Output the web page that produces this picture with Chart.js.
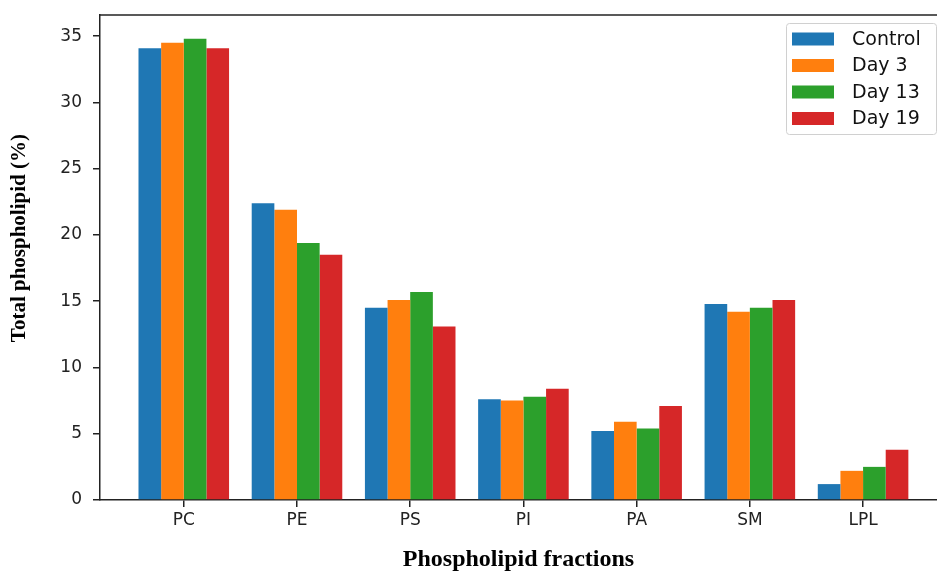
<!DOCTYPE html>
<html>
<head>
<meta charset="utf-8">
<script src="https://cdn.jsdelivr.net/npm/chart.js@4"></script>
<style>
  html, body { margin: 0; padding: 0; background: #fff; overflow: hidden; }
  #wrap { width: 937px; height: 572px; }
</style>
</head>
<body>
<div id="wrap"><canvas id="grafico" width="937" height="572"></canvas></div>
<script>
// categories and series
const fracciones = ['PC', 'PE', 'PS', 'PI', 'PA', 'SM', 'LPL'];
const control = [34.1, 22.4, 14.5, 7.6, 5.2, 14.8, 1.2];
const dia3 = [34.5, 21.9, 15.1, 7.5, 5.9, 14.2, 2.2];
const dia13 = [34.8, 19.4, 15.7, 7.8, 5.4, 14.5, 2.5];
const dia19 = [34.1, 18.5, 13.1, 8.4, 7.1, 15.1, 3.8];
const series = ['Control', 'Day 3', 'Day 13', 'Day 19'];
const yTicks = [0, 5, 10, 15, 20, 25, 30, 35];
const tituloY = 'Total phospholipid (%)';
const tituloX = 'Phospholipid fractions';

const colores = ['#1f77b4', '#ff7f0e', '#2ca02c', '#d62728'];
const tinta = '#222';

const aPuntos = (valores) => valores.map((v, i) => ({ x: i, y: v }));

// marco superior, titulo del eje Y y leyenda dentro del area del grafico
const marcoYLeyenda = {
    id: 'marcoYLeyenda',
    afterDraw(chart) {
        const ctx = chart.ctx;
        const area = chart.chartArea;
        ctx.save();
        ctx.strokeStyle = tinta;
        ctx.lineWidth = 1.5;
        ctx.beginPath();
        ctx.moveTo(area.left, area.top);
        ctx.lineTo(area.right, area.top);
        ctx.stroke();

        // titulo Y (un poco por encima del centro, como en la figura)
        ctx.save();
        ctx.translate(20, area.top + (area.bottom - area.top) * 0.46);
        ctx.rotate(-Math.PI / 2);
        ctx.font = 'bold 21px "Liberation Serif"';
        ctx.fillStyle = '#000';
        ctx.textAlign = 'center';
        ctx.textBaseline = 'middle';
        ctx.fillText(tituloY, 0, 0);
        ctx.restore();

        const bw = 150, bh = 111;
        const bx = area.right - bw - 1;
        const by = area.top + 8;
        ctx.fillStyle = 'rgba(255,255,255,0.85)';
        ctx.strokeStyle = '#d0d0d0';
        ctx.lineWidth = 1;
        ctx.beginPath();
        ctx.roundRect(bx + 0.5, by + 0.5, bw, bh, 3);
        ctx.fill();
        ctx.stroke();

        ctx.font = '19px "DejaVu Sans"';
        ctx.textBaseline = 'middle';
        chart.data.datasets.forEach((ds, i) => {
            const cy = by + 16 + i * 26.5;
            ctx.fillStyle = ds.backgroundColor;
            ctx.fillRect(bx + 6, cy - 6.5, 42, 13);
            ctx.fillStyle = '#111';
            ctx.fillText(ds.label, bx + 66, cy + 1);
        });
        ctx.restore();
    }
};

new Chart(document.getElementById('grafico'), {
    type: 'bar',
    data: {
        datasets: [control, dia3, dia13, dia19].map((valores, i) => ({
            label: series[i],
            data: aPuntos(valores),
            backgroundColor: colores[i],
            borderWidth: 0,
            categoryPercentage: 0.8,
            barPercentage: 1.0,
        })),
    },
    options: {
        responsive: false,
        animation: false,
        layout: { padding: { top: 15, left: 0, right: 0, bottom: 0 } },
        plugins: {
            legend: { display: false },
            tooltip: { enabled: false },
        },
        scales: {
            x: {
                type: 'linear',
                min: -0.74,
                max: 6.653,
                offset: false,
                afterFit: (scale) => { scale.height = 72; },
                afterBuildTicks: (axis) => {
                    axis.ticks = fracciones.map((_, i) => ({ value: i }));
                },
                ticks: {
                    autoSkip: false,
                    maxRotation: 0,
                    padding: 3,
                    color: tinta,
                    font: { family: 'DejaVu Sans', size: 17 },
                    callback: (value) => fracciones[value],
                },
                grid: {
                    offset: false,
                    drawOnChartArea: false,
                    drawTicks: true,
                    tickLength: 7,
                    color: tinta,
                    lineWidth: 1.5,
                },
                border: { color: tinta, width: 1.5 },
                title: {
                    display: true,
                    text: tituloX,
                    color: '#000',
                    font: { family: 'Liberation Serif', size: 24, weight: 'bold', lineHeight: 1.0 },
                    padding: { top: 0, bottom: 0 },
                },
            },
            y: {
                min: 0,
                max: 36.6,
                afterFit: (scale) => {
                    scale.width = 100;
                    scale.paddingTop = 0;
                    scale.paddingBottom = 0;
                },
                afterBuildTicks: (axis) => {
                    axis.ticks = yTicks.map((v) => ({ value: v }));
                },
                ticks: {
                    padding: 11,
                    color: tinta,
                    font: { family: 'DejaVu Sans', size: 17 },
                },
                grid: {
                    drawOnChartArea: false,
                    drawTicks: true,
                    tickLength: 7,
                    color: tinta,
                    lineWidth: 1.5,
                },
                border: { color: tinta, width: 1.5 },
                title: { display: false },
            },
        },
    },
    plugins: [marcoYLeyenda],
});
</script>
</body>
</html>
